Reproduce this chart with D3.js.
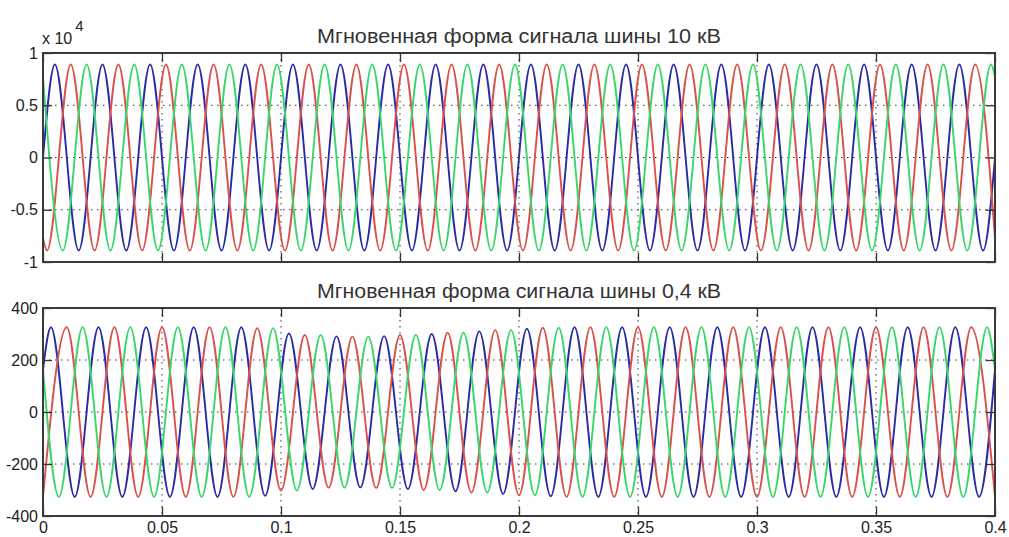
<!DOCTYPE html>
<html>
<head>
<meta charset="utf-8">
<script src="https://cdn.jsdelivr.net/npm/d3@7"></script>
<style>
  html, body { margin: 0; padding: 0; background: #fff; }
  svg { display: block; font-family: "Liberation Sans", Arial, sans-serif; }
</style>
</head>
<body>
<svg id="chart" width="1009" height="537"></svg>
<script>
// ось времени и подписи
const timeTicks = [0, 0.05, 0.1, 0.15, 0.2, 0.25, 0.3, 0.35, 0.4];
const topYTicks = [-10000, -5000, 0, 5000, 10000];
const bottomYTicks = [-400, -200, 0, 200, 400];
const titles = ['Мгновенная форма сигнала шины 10 кВ', 'Мгновенная форма сигнала шины 0,4 кВ'];

// фазы A, B, C
const phaseNames = ['A', 'B', 'C'];
const phaseColors = ['#2a2aa6', '#d9504c', '#3ad66c'];
const halfPeriod = 0.01;

// шина 10 кВ: время первого экстремума, его знак, значения на краях
const topFirstExtremum = [0.005, 0.00167, 0.00833];
const topFirstSign = [1, -1, -1];
const topStart = [0, -7700, 7700];
const topEnd = [0, -7700, 7700];
// амплитуда по полупериодам (0..0.4 с, шаг 0.01 с)
const topEnvelope = [
  8900, 8900, 8900, 8900, 8900, 8900, 8900, 8900, 8900, 8900,
  8900, 8900, 8900, 8900, 8900, 8900, 8900, 8900, 8900, 8900,
  8900, 8900, 8900, 8900, 8900, 8900, 8900, 8900, 8900, 8900,
  8900, 8900, 8900, 8900, 8900, 8900, 8900, 8900, 8900, 8900
];

// шина 0,4 кВ
const bottomFirstExtremum = [0.00333, 0, 0.00667];
const bottomFirstSign = [1, -1, -1];
const bottomStart = [163, -325, 163];
const bottomEnd = [163, -325, 163];
const bottomEnvelope = [
  326, 326, 326, 326, 326, 326, 326, 326, 326, 322,
  302, 296, 291, 290, 292, 296, 300, 305, 310, 315,
  320, 324, 326, 326, 326, 326, 326, 326, 326, 326,
  326, 326, 326, 326, 326, 326, 326, 326, 326, 326
];

const svg = d3.select('#chart');
const x = d3.scaleLinear().domain([0, 0.4]).range([43, 995]);

function buildPoints(first, sign, start, end, envelope) {
  const pts = [];
  if (first > 1e-9) pts.push([0, start]);
  let s = sign;
  let lastT = 0;
  for (let t = first; t <= 0.4 + 1e-9; t += halfPeriod) {
    const idx = Math.min(envelope.length - 1, Math.floor(t / halfPeriod + 1e-6));
    pts.push([t, s * envelope[idx]]);
    s = -s;
    lastT = t;
  }
  if (lastT < 0.4 - 1e-9) pts.push([0.4, end]);
  return pts;
}

function drawPanel(cfg) {
  const y = d3.scaleLinear().domain(cfg.domain).range([cfg.bottom, cfg.top]);
  const g = svg.append('g');

  // сетка
  const grid = g.append('g').attr('stroke', '#333').attr('stroke-width', 1)
    .attr('stroke-dasharray', '1.5,4.5');
  grid.selectAll('.vg').data(timeTicks.slice(1, -1)).join('line')
    .attr('x1', d => x(d)).attr('x2', d => x(d))
    .attr('y1', cfg.top).attr('y2', cfg.bottom);
  grid.selectAll('.hg').data(cfg.yTicks.slice(1, -1)).join('line')
    .attr('x1', x.range()[0]).attr('x2', x.range()[1])
    .attr('y1', d => y(d)).attr('y2', d => y(d));

  // сигналы
  const line = d3.line().x(d => x(d[0])).y(d => y(d[1])).curve(d3.curveMonotoneX);
  const clipId = 'clip' + cfg.id;
  g.append('clipPath').attr('id', clipId).append('rect')
    .attr('x', x.range()[0]).attr('y', cfg.top)
    .attr('width', x.range()[1] - x.range()[0]).attr('height', cfg.bottom - cfg.top);
  const series = phaseNames.map((p, i) =>
    buildPoints(cfg.first[i], cfg.sign[i], cfg.start[i], cfg.end[i], cfg.envelope));
  g.append('g').attr('clip-path', `url(#${clipId})`)
    .selectAll('path').data(series).join('path')
    .attr('d', line)
    .attr('fill', 'none')
    .attr('stroke', (d, i) => phaseColors[i])
    .attr('stroke-width', 1.9);

  // оси (засечки внутрь)
  const tickLen = 9;
  const styleAxis = sel => {
    sel.select('.domain').remove();
    sel.selectAll('.tick line').attr('stroke', '#333').attr('stroke-width', 1.3);
    sel.selectAll('.tick text').attr('fill', '#222').style('font-size', '16px')
      .style('font-family', '"Liberation Sans", Arial, sans-serif');
  };
  g.append('g').attr('transform', `translate(0,${cfg.bottom})`)
    .call(d3.axisBottom(x).tickValues(timeTicks).tickSize(-tickLen).tickPadding(6)
      .tickFormat(cfg.showX ? d => String(d) : () => ''))
    .call(styleAxis);
  g.append('g').attr('transform', `translate(0,${cfg.top})`)
    .call(d3.axisTop(x).tickValues(timeTicks).tickSize(-tickLen).tickFormat(() => ''))
    .call(styleAxis);
  g.append('g').attr('transform', `translate(${x.range()[0]},0)`)
    .call(d3.axisLeft(y).tickValues(cfg.yTicks).tickSize(-tickLen).tickPadding(5)
      .tickFormat(cfg.yFormat))
    .call(styleAxis);
  g.append('g').attr('transform', `translate(${x.range()[1]},0)`)
    .call(d3.axisRight(y).tickValues(cfg.yTicks).tickSize(-tickLen).tickFormat(() => ''))
    .call(styleAxis);

  // рамка
  g.append('rect')
    .attr('x', x.range()[0]).attr('y', cfg.top)
    .attr('width', x.range()[1] - x.range()[0]).attr('height', cfg.bottom - cfg.top)
    .attr('fill', 'none').attr('stroke', '#3a3a3a').attr('stroke-width', 2);

  // заголовок
  svg.append('text')
    .attr('x', (x.range()[0] + x.range()[1]) / 2).attr('y', cfg.titleY)
    .attr('text-anchor', 'middle').attr('fill', '#333')
    .attr('textLength', 404).attr('lengthAdjust', 'spacingAndGlyphs')
    .style('font-size', '20px')
    .text(cfg.title);
}

drawPanel({
  id: 'top', top: 53, bottom: 262, domain: [-10000, 10000], yTicks: topYTicks,
  yFormat: d => String(d / 10000),
  first: topFirstExtremum, sign: topFirstSign, start: topStart, end: topEnd,
  envelope: topEnvelope, showX: false, title: titles[0], titleY: 43
});
drawPanel({
  id: 'bottom', top: 308, bottom: 516, domain: [-400, 400], yTicks: bottomYTicks,
  yFormat: d => String(d),
  first: bottomFirstExtremum, sign: bottomFirstSign, start: bottomStart, end: bottomEnd,
  envelope: bottomEnvelope, showX: true, title: titles[1], titleY: 298
});

// множитель оси Y верхнего графика
const mult = svg.append('text').attr('x', 42).attr('y', 44).attr('fill', '#222')
  .style('font-size', '16px');
mult.append('tspan').text('x 10');
mult.append('tspan').attr('dx', 3).attr('dy', -13).style('font-size', '15px').text('4');
</script>
</body>
</html>
